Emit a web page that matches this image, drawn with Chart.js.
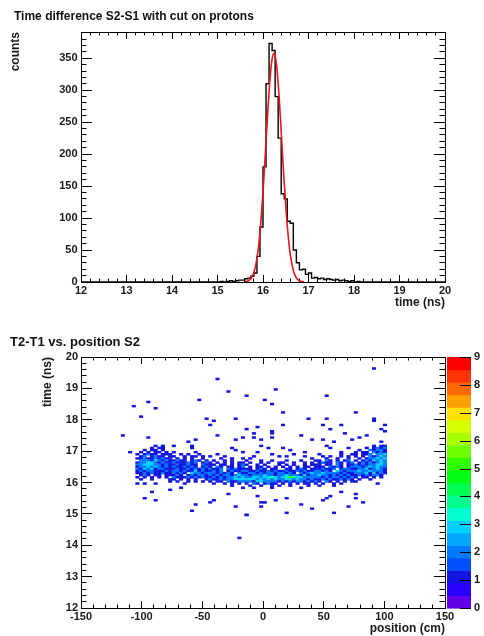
<!DOCTYPE html>
<html>
<head>
<meta charset="utf-8">
<script src="https://cdn.jsdelivr.net/npm/chart.js@4/dist/chart.umd.min.js"></script>
<style>
  body { margin: 0; background: #fff; font-family: 'Liberation Sans', Arial, sans-serif; }
  canvas { position: absolute; left: 0; }
  .ttl { position: absolute; font-weight: bold; color: #111; white-space: nowrap; }
</style>
</head>
<body>
<canvas id="hist" width="484" height="318" style="top:0"></canvas>
<canvas id="map" width="484" height="318" style="top:318px"></canvas>
<div class="ttl" style="left:14px;top:9px;font-size:12px;line-height:14px">Time difference S2-S1 with cut on protons</div>
<div class="ttl" style="left:10px;top:334px;font-size:13px;line-height:16px">T2-T1 vs. position S2</div>
<script>
// ---- top panel: time difference S2-S1 ----
const timeTicks = [12, 13, 14, 15, 16, 17, 18, 19, 20];
const countTicks = [0, 50, 100, 150, 200, 250, 300, 350];
const histStart = 15.0;        // low edge of first listed bin (ns)
const histBinWidth = 8 / 120;  // 120 bins from 12 to 20 ns
const histCounts = [0, 1, 0, 1, 2, 1, 2, 3, 3, 5, 6, 9, 14, 40, 86, 180, 310, 373, 362, 290,
  225, 138, 130, 95, 92, 50, 30, 19, 20, 12, 14, 6, 7, 5, 6, 4, 5, 4, 3, 4,
  2, 3, 2, 1, 2, 0, 1, 0];
// gaussian fit
const fitTimes = [15.6, 15.65, 15.7, 15.75, 15.8, 15.85, 15.9, 15.95, 16.0, 16.05, 16.1, 16.15, 16.2, 16.25,
  16.3, 16.35, 16.4, 16.45, 16.5, 16.55, 16.6, 16.65, 16.7, 16.75, 16.8, 16.85, 16.9];
const fitCounts = [0.4, 1.2, 3, 7, 15, 30, 54, 91, 140, 199, 260, 314, 349, 358,
  338, 294, 236, 174, 119, 75, 43, 23, 11, 5, 2, 0.8, 0.3];

// ---- bottom panel: T2-T1 vs position S2 ----
const posTicks = [-150, -100, -50, 0, 50, 100, 150];
const nsTicks = [12, 13, 14, 15, 16, 17, 18, 19, 20];
const zTicks = [0, 1, 2, 3, 4, 5, 6, 7, 8, 9];
const cellWidth = 3;          // cm
const cellHeight = 8 / 120;   // ns
const bandLeft = -105;        // cm, left edge of first band column
const bandTop = 17.2;         // ns, top edge of first band row
// counts per cell, rows from 17.2 ns downwards, columns of 3 cm from -105 cm
const bandRows = [
  '.....1.1.. 1....1.... .......... ....1..... .......... ..1....... .....1.11.',
  '....1.11.. .....1.... ......1... ......1... 1......... ...1....1. ...1.1212.',
  '..1.11.1.. .......... .......1.. .......... ..1....... .......... .1..21221.',
  '.1.1.11.1. 1.....1... .........1 ...1...... ......1... ......1... 1.11.2121.',
  '1.1211.111 ..1.1..1.. ..1....... .......1.. ...1...... 1.....1..1 1.112.223.',
  '.12.1211.1 1..1.11.1. 1...1..... ..1......1 .1....1... .1.1..1.1. 1.1.21232.',
  '1121121211 .1.1.1..1. ...1..1..1 .1........ ........1. ..1..1..1. .1.122323.',
  '.222132121 1211.121.1 .1..1.1... 1...1..1.. .1...1...1 1.21.1.12. 1.1213232.',
  '1223321211 2111212.12 1.1.1.1.11 .1..1.1..1 1..1..1.1. 1211.21.12 .12121232.',
  '2233322121 1211211.21 11.11.1.12 1..1.1...1 .1.1..1.11 1.11.21.11 212122332.',
  '1223232121 2112121.12 1.21.11.12 .1.11.1.1. 1.1.1.11.1 11.2121.12 221232322.',
  '2132312211 1211212121 2112.21211 11.121.11. .11.121.11 12112.1221 122312321.',
  '1212211121 2212113121 1212.12112 2112112121 1211212112 2121.32122 232232221.',
  '1121211211 2121.32212 2212121.21 1221212212 2121.21232 2322221211 222313121.',
  '.121.11.11 121.121221 2121221232 2122232212 2322213122 3221212121 12121221..',
  '1.1.1.1.1. 2111212121 1212122323 2233233432 3454332222 2121221212 1.11.1.1..',
  '.1..1....1 1.1.1.1..1 2112122333 3332323232 2332322121 1212112121 .1..1.....',
  '.........1 .1..1.1.1. 1.11.21122 2213322221 2121221212 1.21.1.1.1 1.........',
  '1.1..1.... ...1...... .1..1.1.1. 1.21.1211. 1.1.1.11.1 .1..1.1... ......1...',
  '.......... .......... ......1... .1..1..1.1 ..1....1.. 1...1..... ..........',
  '.......... ..1....... .........1 ..1....1.. .....1.... .......... ..........'
];
// single-count cells away from the band: [position cm, time ns]
const strayCells = [
  [91.5, 19.62], [-37.4, 19.31], [-29.4, 18.88], [-14.8, 18.78], [9.1, 18.94], [53.0, 18.78],
  [-51.1, 18.65], [1.6, 18.60], [7.1, 18.47], [-94.5, 18.54], [-106.9, 18.43], [-88.7, 18.34],
  [16.2, 18.26], [75.0, 18.23], [-100.6, 18.09], [-45.1, 18.05], [-41.0, 17.94], [-21.2, 18.02],
  [37.3, 18.03], [53.0, 18.01], [90.3, 18.0], [92.0, 17.95], [17.3, 17.85], [49.1, 17.86],
  [64.8, 17.84], [99.2, 17.84], [-43.1, 17.81], [-4.4, 17.76], [-12.9, 17.71], [7.4, 17.66],
  [55.2, 17.67], [96.4, 17.71], [99.2, 17.62], [66.7, 17.54], [-115.1, 17.47], [-93.7, 17.43],
  [-37.7, 17.5], [-8.8, 17.54], [-8.8, 17.46], [7.4, 17.54], [7.4, 17.46], [32.1, 17.5],
  [86.0, 17.49], [79.1, 17.41], [-62.9, 17.28], [-54.7, 17.35], [-21.2, 17.35], [-15.7, 17.43],
  [-0.6, 17.39], [39.3, 17.35], [48.6, 17.35], [58.8, 17.27], [72.3, 17.34], [96.4, 17.28],
  [-111.0, 16.96],
  [-76.7, 15.78], [-90.6, 15.68], [-97.0, 15.53], [-88.7, 15.44], [-41.0, 15.44], [-43.7, 15.34],
  [-54.7, 15.31], [-58.8, 15.13], [-21.2, 15.21], [-12.9, 14.96], [-14.8, 14.96], [-18.9, 14.25],
  [-2.5, 15.36], [1.6, 15.39], [9.1, 15.44], [-0.3, 15.23], [19.0, 15.05], [31.6, 15.31],
  [39.3, 15.16], [49.1, 15.41], [51.4, 15.53], [59.3, 15.03], [69.0, 15.26], [75.0, 15.53],
  [83.0, 15.38], [75.0, 15.63], [20.0, 15.52], [-5.2, 15.6], [-30.0, 15.62], [63.4, 15.71],
  [55.2, 15.58]
];
const zMax = 9;
// colour scale, bottom to top
const palette = ['#6000e8', '#2a00ff', '#1414e0', '#0050ff', '#0078ff', '#00a8ff', '#00d0ff',
  '#00ffd0', '#00ff90', '#00ff50', '#00ff10', '#30ff00', '#70ff00', '#a8ff00', '#d8ff00',
  '#ffe000', '#ffa000', '#ff6a00', '#ff3300', '#ff0000'];

Chart.defaults.font.family = "'Liberation Sans', Arial, sans-serif";
Chart.defaults.color = '#1a1a1a';

const tickFont = { size: 11, weight: 'bold' };
const titleFont = { size: 12, weight: 'bold', lineHeight: 1 };
const setTicks = list => s => { s.ticks = list.map(v => ({ value: v })); };

// minor tick values: each major interval split in `parts`
function minorValues(major, parts) {
  const out = [];
  for (let i = 0; i < major.length - 1; i++) {
    for (let k = 1; k < parts; k++) out.push(major[i] + (major[i + 1] - major[i]) * k / parts);
  }
  return out;
}

// tick marks pointing into the plot (negative tick length)
const inwardGrid = len => ({
  display: true, drawOnChartArea: false, drawTicks: true, tickLength: -len,
  color: '#000', tickColor: '#000', lineWidth: 1, tickWidth: 1, offset: false
});

// zero-size axis that only draws inward ticks on one side of the frame
function tickAxis(position, min, max, values, len) {
  return {
    type: 'linear', position: position, min: min, max: max, weight: -1, offset: false,
    afterBuildTicks: setTicks(values),
    afterFit: s => { if (s.isHorizontal()) s.height = 0; else s.width = 0; },
    ticks: { display: false },
    grid: inwardGrid(len),
    border: { display: false }
  };
}

// plot frame
const frame = {
  id: 'frame',
  afterDraw(chart) {
    const { ctx, chartArea: a } = chart;
    const L = Math.round(a.left), R = Math.round(a.right), T = Math.round(a.top), B = Math.round(a.bottom);
    ctx.save();
    ctx.fillStyle = '#000';
    ctx.fillRect(L, T, R - L + 1, 1);
    ctx.fillRect(L, B, R - L + 1, 1);
    ctx.fillRect(L, T, 1, B - T + 1);
    ctx.fillRect(R, T, 1, B - T + 1);
    ctx.restore();
  }
};

// colour key drawn against the z scale
function colorKey(o) {
  return {
    id: 'colorKey',
    afterDraw(chart) {
      const { ctx, chartArea: a } = chart;
      const z = chart.scales.z;
      const x0 = Math.round(a.right) + o.gap;
      const step = zMax / palette.length;
      ctx.save();
      palette.forEach((c, k) => {
        const yTop = z.getPixelForValue((k + 1) * step);
        const yBot = z.getPixelForValue(k * step);
        ctx.fillStyle = c;
        ctx.fillRect(x0, yTop, o.width, yBot - yTop + 0.6);
      });
      ctx.fillStyle = '#000';
      zTicks.forEach(v => {
        const py = Math.round(z.getPixelForValue(v));
        ctx.fillRect(x0 + o.width - o.tickLen, py, o.tickLen, 1);
      });
      ctx.restore();
    }
  };
}

renderHistogram();
renderMap();

function renderHistogram() {
  const histPoints = [{ x: 12, y: 0 }];
  histCounts.forEach((c, i) => histPoints.push({ x: histStart + i * histBinWidth, y: c }));
  histPoints.push({ x: histStart + histCounts.length * histBinWidth, y: 0 });
  histPoints.push({ x: 20, y: 0 });

  const tMinor = minorValues(timeTicks, 5);
  const cMinor = minorValues(countTicks.concat([400]), 5).filter(v => v <= 391);

  new Chart(document.getElementById('hist'), {
    type: 'line',
    data: {
      datasets: [{
        label: 'fit',
        data: fitTimes.map((t, i) => ({ x: t, y: fitCounts[i] })),
        borderColor: '#e8161b',
        borderWidth: 1.6,
        pointRadius: 0,
        cubicInterpolationMode: 'monotone',
        order: 0
      }, {
        label: 'counts',
        data: histPoints,
        borderColor: '#000',
        borderWidth: 1.4,
        pointRadius: 0,
        stepped: true,
        clip: 2,
        order: 1
      }]
    },
    options: {
      responsive: false,
      animation: false,
      devicePixelRatio: 1,
      events: [],
      layout: { padding: { left: 9.5, right: 39, top: 32, bottom: 9 } },
      plugins: { legend: { display: false }, tooltip: { enabled: false } },
      scales: {
        x: {
          type: 'linear', min: 12, max: 20,
          afterBuildTicks: setTicks(timeTicks),
          afterFit: s => { s.height = 27; },
          grid: inwardGrid(7), border: { display: false },
          ticks: { font: tickFont, padding: 9, maxRotation: 0, autoSkip: false },
          title: { display: true, text: 'time (ns)', align: 'end', font: titleFont, padding: 0 }
        },
        y: {
          type: 'linear', min: 0, max: 391,
          afterBuildTicks: setTicks(countTicks),
          afterFit: s => { s.width = 71.5; },
          grid: inwardGrid(11), border: { display: false },
          ticks: { font: tickFont, padding: 14.5, autoSkip: false },
          title: { display: true, text: 'counts', align: 'end', font: titleFont, padding: 0 }
        },
        xMinorB: tickAxis('bottom', 12, 20, tMinor, 3.5),
        xMajorT: tickAxis('top', 12, 20, timeTicks, 7),
        xMinorT: tickAxis('top', 12, 20, tMinor, 3.5),
        yMinorL: tickAxis('left', 0, 391, cMinor, 5.5),
        yMajorR: tickAxis('right', 0, 391, countTicks, 11),
        yMinorR: tickAxis('right', 0, 391, cMinor, 5.5)
      }
    },
    plugins: [frame]
  });
}

function renderMap() {
  const cells = [];
  bandRows.forEach((row, r) => {
    const s = row.replace(/ /g, '');
    for (let c = 0; c < s.length; c++) {
      if (s[c] === '.') continue;
      const lo = bandTop - (r + 1) * cellHeight;
      cells.push({ x: bandLeft + (c + 0.5) * cellWidth, lo: lo, hi: lo + cellHeight, v: +s[c] });
    }
  });
  strayCells.forEach(([p, t]) => {
    const lo = 12 + Math.floor((t - 12) / cellHeight) * cellHeight;
    const cx = -150 + (Math.floor((p + 150) / cellWidth) + 0.5) * cellWidth;
    cells.push({ x: cx, lo: lo, hi: lo + cellHeight, v: 1 });
  });
  const level = v => palette[Math.min(palette.length - 1, Math.floor(v / (zMax / palette.length)))];

  const pMinor = minorValues(posTicks, 5);
  const nMinor = minorValues(nsTicks, 5);

  new Chart(document.getElementById('map'), {
    type: 'bar',
    data: {
      datasets: [{
        label: 'entries',
        data: cells.map(c => ({ x: c.x, y: [c.lo, c.hi] })),
        backgroundColor: cells.map(c => level(c.v)),
        borderWidth: 0,
        barThickness: 3.7,
        inflateAmount: 0.2
      }]
    },
    options: {
      responsive: false,
      animation: false,
      devicePixelRatio: 1,
      events: [],
      layout: { padding: { left: 42, right: 0, top: 39, bottom: 1 } },
      plugins: { legend: { display: false }, tooltip: { enabled: false } },
      scales: {
        x: {
          type: 'linear', min: -150, max: 150, offset: false,
          afterBuildTicks: setTicks(posTicks),
          afterFit: s => { s.height = 27; },
          grid: inwardGrid(7), border: { display: false },
          ticks: { font: tickFont, padding: 9, maxRotation: 0, autoSkip: false },
          title: { display: true, text: 'position (cm)', align: 'end', font: titleFont, padding: 0 }
        },
        y: {
          type: 'linear', position: 'left', min: 12, max: 20,
          afterBuildTicks: setTicks(nsTicks),
          afterFit: s => { s.width = 39; },
          grid: inwardGrid(11), border: { display: false },
          ticks: { font: tickFont, padding: 14, autoSkip: false },
          title: { display: true, text: 'time (ns)', align: 'end', font: titleFont, padding: 0 }
        },
        z: {
          type: 'linear', position: 'right', min: 0, max: zMax,
          afterBuildTicks: setTicks(zTicks),
          afterFit: s => { s.width = 39; },
          grid: { display: false, drawTicks: true, tickLength: 26 }, border: { display: false },
          ticks: { font: tickFont, padding: 3, autoSkip: false }
        },
        xMinorB: tickAxis('bottom', -150, 150, pMinor, 3.5),
        xMajorT: tickAxis('top', -150, 150, posTicks, 7),
        xMinorT: tickAxis('top', -150, 150, pMinor, 3.5),
        yMinorL: tickAxis('left', 12, 20, nMinor, 5.5),
        yMajorR: tickAxis('right', 12, 20, nsTicks, 11),
        yMinorR: tickAxis('right', 12, 20, nMinor, 5.5)
      }
    },
    plugins: [frame, colorKey({ gap: 2, width: 24, tickLen: 11 })]
  });
}
</script>
</body>
</html>
